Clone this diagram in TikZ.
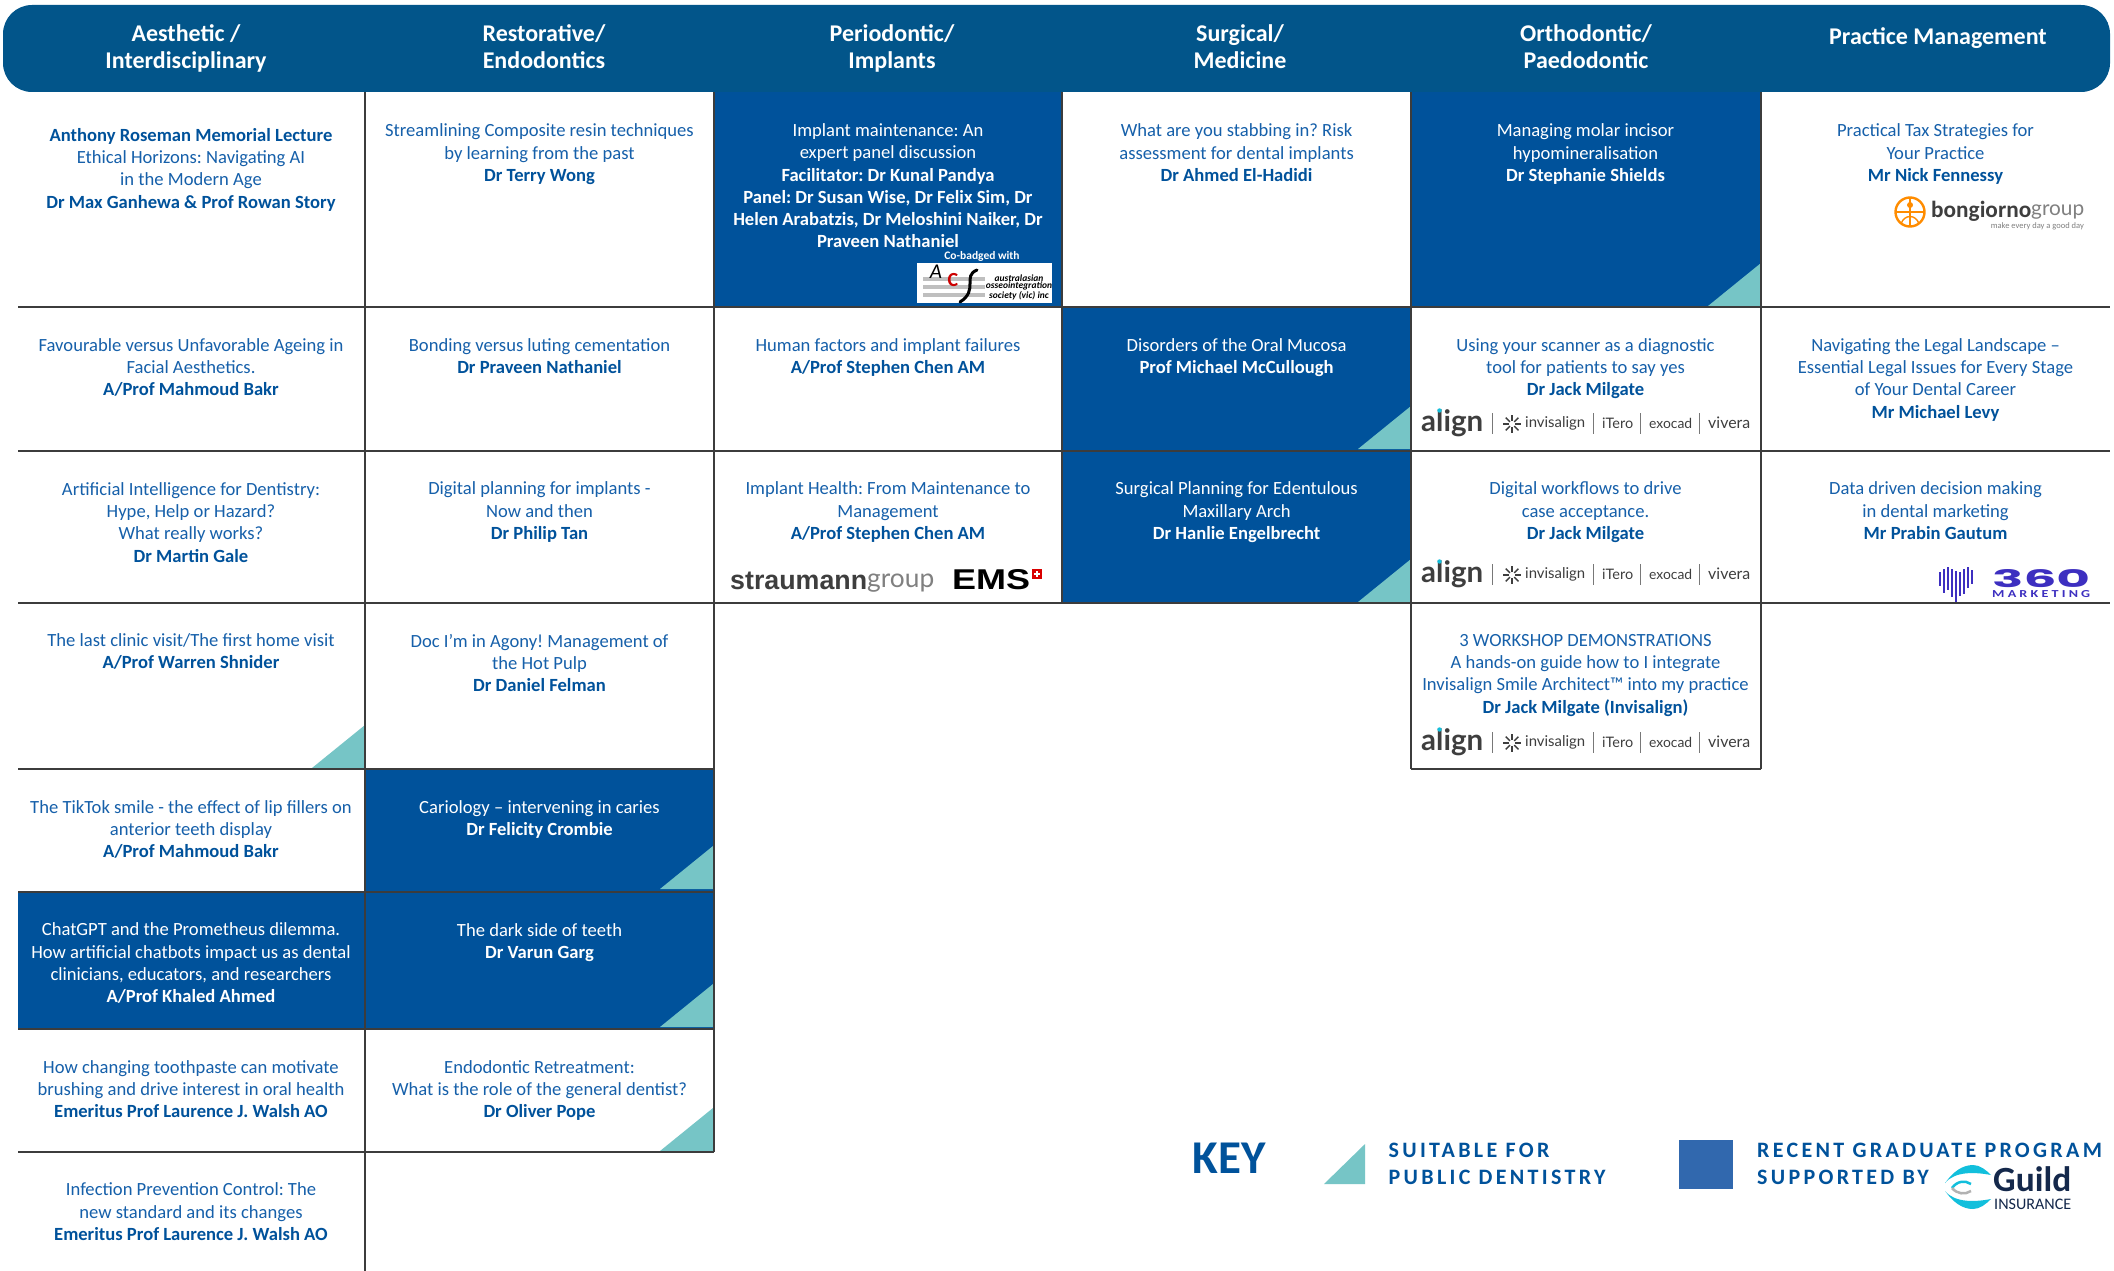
\documentclass[tikz,border=0pt]{standalone}
\usepackage{fontspec}
\usepackage{graphicx}
\setmainfont{Carlito}
\newfontfamily\keyfont[LetterSpace=15]{Carlito}
\newfontfamily\lightfont{Lato}
\newfontfamily\heavyfont{Liberation Sans}
\newfontfamily\popfont{Poppins}
\definecolor{headblue}{HTML}{02558A}
\definecolor{cellblue}{HTML}{00529B}
\definecolor{titleblue}{HTML}{1660AA}
\definecolor{spk}{HTML}{00529B}
\definecolor{teal}{HTML}{76C5C6}
\definecolor{keyblue}{HTML}{3168AE}
\definecolor{rule}{HTML}{3C3C3C}
\definecolor{logogrey}{HTML}{3E3E3E}
\definecolor{purple360}{HTML}{3D2FC0}
\definecolor{guildnavy}{HTML}{14284B}
\definecolor{guildcyan}{HTML}{12BFDC}
\newcommand\Sp[1]{{\bfseries\color{spk}#1}}
\newcommand\Wp[1]{{\bfseries\color{white}#1}}
\newcommand\fitw[2]{\resizebox{#1pt}{!}{#2}}
\tikzset{
  x=1pt,y=-1pt,
  bodyfont/.style={font=\fontsize{18.6pt}{22.25pt}\selectfont\frenchspacing,align=center,inner sep=0pt,yshift=-2.6pt,execute at begin node=\strut,execute at end node=\strut},
  celltext/.style={bodyfont,text=titleblue},
  cellwhite/.style={bodyfont,text=white},
  headtext/.style={font=\fontsize{24pt}{27pt}\selectfont\bfseries,align=center,inner sep=0pt,text=white,yshift=-3.6pt,execute at begin node=\strut,execute at end node=\strut},
  gridh/.style={draw=rule,line width=2.4pt},
  gridv/.style={draw=rule,line width=1.7pt},
  tri/.style={fill=teal},
  logotext/.style={inner sep=0pt,text=logogrey,font=\lightfont\fontsize{15pt}{15pt}\selectfont},
  logosep/.style={draw=logogrey!70,line width=.9pt},
  keytext/.style={inner sep=0pt,anchor=west,text=spk,font=\keyfont\fontsize{22pt}{22pt}\selectfont\bfseries},
}
\newcommand\tritop[2]{\fill[tri] (#1-53,#2) -- (#1,#2) -- (#1,#2-43) -- cycle;}
\newcommand\alignlogo[2]{%
  \node[logotext,anchor=west,font=\lightfont\bfseries\fontsize{33pt}{33pt}\selectfont] (#1a) at (1421,#2) {\fitw{62}{align}};
  \fill[guildcyan] (1439.5,#2-12.5) circle (2.2);
  \draw[logosep] (1492.4,#2-10) -- (1492.4,#2+11);
  \foreach \ang in {0,45,...,315}{\draw[logogrey,line width=1.4pt] (1512,#2+1)+(\ang:3) -- +(\ang:9);}
  \node[logotext,anchor=west] (#1b) at (1525,#2) {\fitw{60}{invisalign}};
  \draw[logosep] (1593,#2-10) -- (1593,#2+11);
  \node[logotext,anchor=west] (#1c) at (1602,#2) {\fitw{31}{iTero}};
  \draw[logosep] (1640,#2-10) -- (1640,#2+11);
  \node[logotext,anchor=west] (#1d) at (1649,#2) {\fitw{43}{exocad}};
  \draw[logosep] (1699.4,#2-10) -- (1699.4,#2+11);
  \node[logotext,anchor=west] (#1e) at (1708,#2) {\fitw{42}{vivera}};
}
\begin{document}
\begin{tikzpicture}
\useasboundingbox (0,0) rectangle (2114,1271);
\fill[white] (0,0) rectangle (2114,1271);
% blue cells
\fill[cellblue] (714,92) rectangle (1062,307);
\fill[cellblue] (1411,92) rectangle (1761,307);
\fill[cellblue] (1062,307) rectangle (1411,603);
\fill[cellblue] (365,769) rectangle (714,1029);
\fill[cellblue] (18,892) rectangle (365,1029);
% triangles
\tritop{1761}{306}
\tritop{1411}{449}
\tritop{1411}{602}
\tritop{365}{768}
\tritop{713}{889}
\tritop{713}{1027}
\tritop{713}{1151}
% grid
\foreach \yy/\xa/\xb in {307/18/2110,451/18/2110,603/18/2110,769/18/714,892/18/714,1029/18/714,1152/18/714,769/1411/1761}
  \draw[gridh] (\xa,\yy) -- (\xb,\yy);
\draw[gridv] (365,92) -- (365,1271);
\draw[gridv] (714,92) -- (714,1152);
\draw[gridv] (1062,92) -- (1062,603);
\draw[gridv] (1411,92) -- (1411,769);
\draw[gridv] (1761,92) -- (1761,769);
% header
\fill[headblue] (3,5) [rounded corners=29pt] -- (2110,5) -- (2110,92) -- (3,92) -- cycle;
\node[headtext] (h1) at (186,47.5) {Aesthetic /\\Interdisciplinary};
\node[headtext] (h2) at (544,47.5) {Restorative/\\Endodontics};
\node[headtext] (h3) at (892,47.5) {Periodontic/\\Implants};
\node[headtext] (h4) at (1240,47.5) {Surgical/\\Medicine};
\node[headtext] (h5) at (1586,47.5) {Orthodontic/\\Paedodontic};
\node[headtext] (h6) at (1938,36) {Practice Management};
% row 1
\node[celltext] (a1) at (191,169) {\Sp{Anthony Roseman Memorial Lecture}\\Ethical Horizons: Navigating AI\\in the Modern Age\\\Sp{Dr Max Ganhewa \& Prof Rowan Story}};
\node[celltext] (b1) at (539.5,153.5) {Streamlining Composite resin techniques\\by learning from the past\\\Sp{Dr Terry Wong}};
\node[cellwhite] (c1) at (888,186.5) {Implant maintenance: An\\expert panel discussion\\\Wp{Facilitator: Dr Kunal Pandya}\\\Wp{Panel: Dr Susan Wise, Dr Felix Sim, Dr}\\\Wp{Helen Arabatzis, Dr Meloshini Naiker, Dr}\\\Wp{Praveen Nathaniel}};
\node[celltext] (d1) at (1236.6,153.5) {What are you stabbing in? Risk\\assessment for dental implants\\\Sp{Dr Ahmed El-Hadidi}};
\node[cellwhite] (e1) at (1585.5,153.5) {Managing molar incisor\\hypomineralisation\\\Wp{Dr Stephanie Shields}};
\node[celltext] (f1) at (1935.5,153.5) {Practical Tax Strategies for\\Your Practice\\\Sp{Mr Nick Fennessy}};
% row 2
\node[celltext] (a2) at (191,368) {Favourable versus Unfavorable Ageing in\\Facial Aesthetics.\\\Sp{A/Prof Mahmoud Bakr}};
\node[celltext] (b2) at (539.5,357) {Bonding versus luting cementation\\\Sp{Dr Praveen Nathaniel}};
\node[celltext] (c2) at (888,357) {Human factors and implant failures\\\Sp{A/Prof Stephen Chen AM}};
\node[cellwhite] (d2) at (1236.6,357) {Disorders of the Oral Mucosa\\\Wp{Prof Michael McCullough}};
\node[celltext] (e2) at (1585.5,368) {Using your scanner as a diagnostic\\tool for patients to say yes\\\Sp{Dr Jack Milgate}};
\node[celltext] (f2) at (1935.5,379) {Navigating the Legal Landscape --\\Essential Legal Issues for Every Stage\\of Your Dental Career\\\Sp{Mr Michael Levy}};
% row 3
\node[celltext] (a3) at (191,523) {Artificial Intelligence for Dentistry:\\Hype, Help or Hazard?\\What really works?\\\Sp{Dr Martin Gale}};
\node[celltext] (b3) at (539.5,511.5) {Digital planning for implants -\\Now and then\\\Sp{Dr Philip Tan}};
\node[celltext] (c3) at (888,511.5) {Implant Health: From Maintenance to\\Management\\\Sp{A/Prof Stephen Chen AM}};
\node[cellwhite] (d3) at (1236.6,511.5) {Surgical Planning for Edentulous\\Maxillary Arch\\\Wp{Dr Hanlie Engelbrecht}};
\node[celltext] (e3) at (1585.5,511.5) {Digital workflows to drive\\case acceptance.\\\Sp{Dr Jack Milgate}};
\node[celltext] (f3) at (1935.5,511.5) {Data driven decision making\\in dental marketing\\\Sp{Mr Prabin Gautum}};
% row 4
\node[celltext] (a4) at (191,652) {The last clinic visit/The first home visit\\\Sp{A/Prof Warren Shnider}};
\node[celltext] (b4) at (539.5,663.5) {Doc I’m in Agony! Management of\\the Hot Pulp\\\Sp{Dr Daniel Felman}};
\node[celltext] (e4) at (1585.5,674.5) {3 WORKSHOP DEMONSTRATIONS\\A hands-on guide how to I integrate\\Invisalign Smile Architect™ into my practice\\\Sp{Dr Jack Milgate (Invisalign)}};
% row 5
\node[celltext] (a5) at (191,830) {The TikTok smile - the effect of lip fillers on\\anterior teeth display\\\Sp{A/Prof Mahmoud Bakr}};
\node[cellwhite] (b5) at (539.5,818.5) {Cariology -- intervening in caries\\\Wp{Dr Felicity Crombie}};
% row 6
\node[cellwhite] (a6) at (191,963.5) {ChatGPT and the Prometheus dilemma.\\How artificial chatbots impact us as dental\\clinicians, educators, and researchers\\\Wp{A/Prof Khaled Ahmed}};
\node[cellwhite] (b6) at (539.5,941.5) {The dark side of teeth\\\Wp{Dr Varun Garg}};
% row 7
\node[celltext] (a7) at (191,1090) {How changing toothpaste can motivate\\brushing and drive interest in oral health\\\Sp{Emeritus Prof Laurence J. Walsh AO}};
\node[celltext] (b7) at (539.5,1090) {Endodontic Retreatment:\\What is the role of the general dentist?\\\Sp{Dr Oliver Pope}};
% row 8
\node[celltext] (a8) at (191,1212.5) {Infection Prevention Control: The\\new standard and its changes\\\Sp{Emeritus Prof Laurence J. Walsh AO}};
% cobadge
\node[inner sep=0pt,text=white,font=\fontsize{11.5pt}{12pt}\selectfont\bfseries] (cob) at (982,256) {Co-badged with};
\fill[white] (917,263) rectangle (1052,303);
\fill[black!25] (923,277) rectangle (985,281);
\fill[black!25] (923,285) rectangle (985,289);
\fill[black!25] (923,293) rectangle (985,297);
\node[inner sep=0pt,text=black,font=\itshape\fontsize{21pt}{21pt}\selectfont] (acsa) at (936,272) {A};
\node[inner sep=0pt,text=red!80!black,font=\bfseries\fontsize{20pt}{20pt}\selectfont] (acsc) at (953,280) {C};
\draw[black,line width=3pt,line cap=round] (977,270) .. controls (962,276) and (979,290) .. (960,302);
\node[inner sep=0pt,text=black,font=\bfseries\itshape\fontsize{9.5pt}{7.2pt}\selectfont,align=center] (acst) at (1019,287) {australasian\\osseointegration\\society (vic) inc};
% bongiorno
\draw[draw=orange!90!yellow,line width=2.4pt] (1910,212) circle (14.5);
\draw[draw=orange!90!yellow,line width=1.6pt] (1910,198) -- (1910,226);
\draw[draw=orange!90!yellow,line width=1.6pt] (1896,212) -- (1924,212);
\draw[draw=orange!90!yellow,line width=1.4pt] (1901,224) .. controls (1904,214) and (1916,214) .. (1919,224);
\fill[orange!90!yellow] (1910,205) circle (3);
\node[inner sep=0pt,anchor=west,text=logogrey,font=\bfseries\fontsize{25pt}{25pt}\selectfont] (bong) at (1931,211) {\fitw{100}{bongiorno}};
\node[inner sep=0pt,anchor=west,text=gray,font=\lightfont\fontsize{25pt}{25pt}\selectfont] (bgrp) at (2031,212) {\fitw{53}{group}};
\node[inner sep=0pt,anchor=east,text=gray,font=\fontsize{9pt}{9pt}\selectfont] (btag) at (2084,226) {\fitw{93}{make every day a good day}};
% straumann
\node[inner sep=0pt,anchor=west,text=logogrey,font=\heavyfont\bfseries\fontsize{25pt}{25pt}\selectfont] (str) at (730,581) {\fitw{137}{straumann}};
\node[inner sep=0pt,anchor=west,text=gray,font=\lightfont\fontsize{25pt}{25pt}\selectfont] (sgr) at (867,583) {\fitw{67}{group}};
\node[inner sep=0pt,anchor=west,text=black,font=\heavyfont\bfseries\fontsize{25pt}{25pt}\selectfont] (ems) at (952,580) {\resizebox{78pt}{20pt}{EMS}};
\fill[red!85!black] (1032,569) rectangle (1042,579);
\fill[white] (1035.8,570.8) rectangle (1038.2,577.2);
\fill[white] (1033.8,572.8) rectangle (1040.2,575.2);
% align logos
\alignlogo{la}{423}
\alignlogo{lb}{574}
\alignlogo{lc}{742}
% 360
\foreach \xx/\ya/\yb in {1940/572/586,1944/569/593,1948/567/590,1952/569/597,1956/571/602,1960/572/596,1964/569/594,1968/567/588,1972/570/584}
  \draw[purple360,line width=1.7pt] (\xx,\ya) -- (\xx,\yb);
\node[inner sep=0pt,anchor=west,text=purple360,font=\popfont\bfseries\fontsize{24pt}{24pt}\selectfont] (m360) at (1992,579) {\resizebox{98pt}{18pt}{360}};
\node[inner sep=0pt,anchor=west,text=purple360,font=\fontsize{9pt}{9pt}\selectfont\bfseries] (mkt) at (1992,594) {\resizebox{98pt}{7pt}{M A R K E T I N G}};
% key
\node[inner sep=0pt,text=spk,font=\fontsize{47pt}{47pt}\selectfont\bfseries] (key) at (1229,1158) {KEY};
\fill[tri] (1324,1184) -- (1365,1184) -- (1365,1144) -- cycle;
\node[keytext] (k1) at (1388.5,1150) {SUITABLE FOR};
\node[keytext] (k2) at (1388.5,1177) {PUBLIC DENTISTRY};
\fill[keyblue] (1679,1140) rectangle (1733,1189);
\node[keytext] (k3) at (1757,1150) {RECENT GRADUATE PROGRAM};
\node[keytext] (k4) at (1757,1177) {SUPPORTED BY};
% guild
\fill[guildcyan] (1945,1183) .. controls (1953,1172) and (1962,1165) .. (1973,1165) .. controls (1980,1165) and (1986,1170) .. (1991,1175) .. controls (1975,1172) and (1955,1171) .. cycle;
\fill[guildcyan] (1945,1191) .. controls (1953,1202) and (1962,1209) .. (1973,1209) .. controls (1980,1209) and (1986,1204) .. (1991,1199) .. controls (1975,1202) and (1955,1203) .. cycle;
\draw[guildcyan,line width=2.5pt] (1952,1188) .. controls (1957,1181) and (1965,1180) .. (1971,1184);
\draw[gray!60,line width=2.5pt] (1952,1188) .. controls (1957,1194) and (1965,1195) .. (1971,1191);
\node[inner sep=0pt,anchor=west,text=guildnavy,font=\fontsize{40pt}{40pt}\selectfont\bfseries] (guild) at (1993,1179) {\fitw{78}{Guild}};
\node[inner sep=0pt,anchor=west,text=guildnavy,font=\fontsize{15pt}{15pt}\selectfont] (gins) at (1994,1204) {\fitw{77}{INSURANCE}};
\end{tikzpicture}
\end{document}
